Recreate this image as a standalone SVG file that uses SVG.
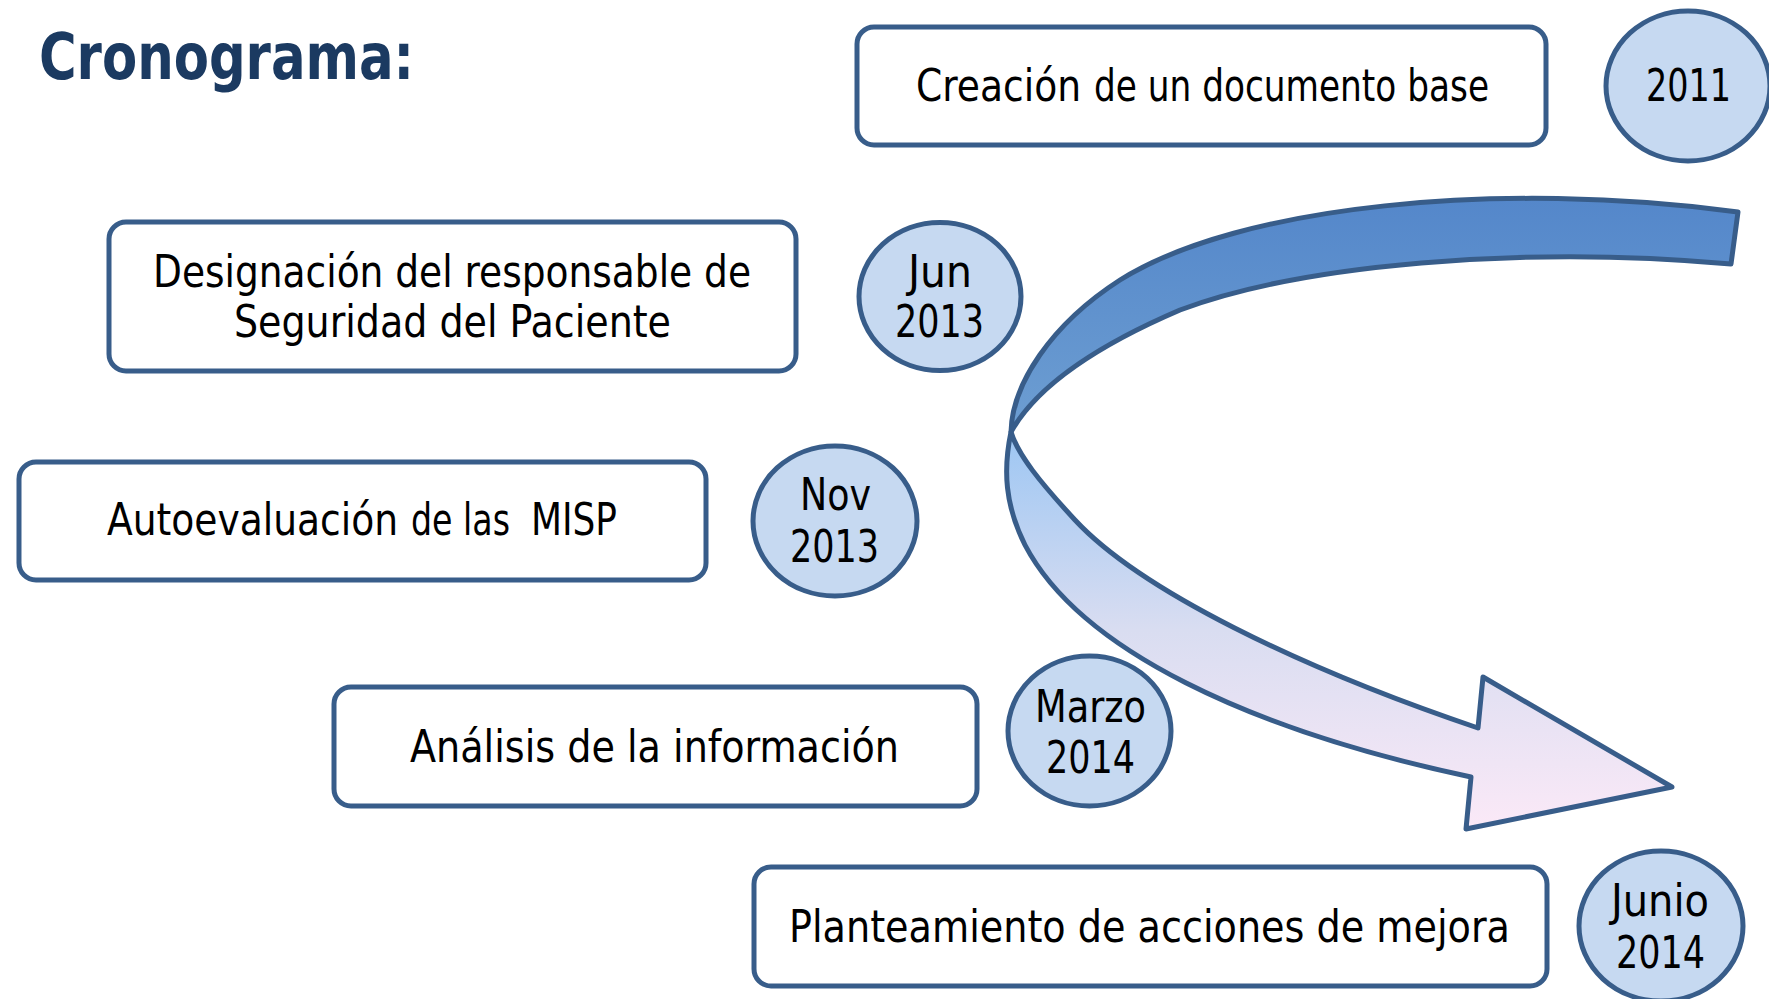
<svg xmlns="http://www.w3.org/2000/svg" width="1769" height="999" viewBox="0 0 1769 999">
  <defs>
    <linearGradient id="backBand" gradientUnits="userSpaceOnUse" x1="0" y1="190" x2="0" y2="440">
      <stop offset="0" stop-color="#5386CA"/>
      <stop offset="1" stop-color="#6E9FD2"/>
    </linearGradient>
    <linearGradient id="frontBand" gradientUnits="userSpaceOnUse" x1="0" y1="430" x2="0" y2="830">
      <stop offset="0" stop-color="#9CC6F3"/>
      <stop offset="0.5" stop-color="#D9DDF1"/>
      <stop offset="1" stop-color="#FBE9F7"/>
    </linearGradient>
    <style>
      .box { fill: #FFFFFF; stroke: #385D8A; stroke-width: 5; }
      .date { fill: #C6D9F1; stroke: #385D8A; stroke-width: 5; }
      .band { stroke: #385D8A; stroke-width: 5; stroke-linejoin: round; }
      .t { font-family: "DejaVu Sans Condensed", "DejaVu Sans", sans-serif; fill: #000000; font-size: 44px; }
      .title { font-family: "DejaVu Sans Condensed", "DejaVu Sans", sans-serif; font-weight: bold; font-size: 64px; fill: #1B3A61; }
    </style>
  </defs>
  <rect width="1769" height="999" fill="#FFFFFF"/>

  <text class="title" x="39" y="79" textLength="375" lengthAdjust="spacingAndGlyphs">Cronograma:</text>

  <g id="connectors">
    <path class="band" fill="url(#backBand)" d="M1738,212 C1500,180 1240,205 1120,280 C1050,325 1012,385 1011,432 C1040,380 1110,340 1180,310 C1300,265 1520,245 1731,264 Z"/>
    <path class="band" fill="url(#frontBand)" d="M1011,432 C1003,470 1005,505 1025,545 C1080,650 1250,730 1471,777 L1466,829 L1672,787 L1483,677 L1478,728 C1300,668 1140,590 1075,520 C1040,482 1018,455 1011,432 Z"/>
  </g>

  <g id="node-creacion">
    <rect class="box" x="857" y="27" width="689" height="118" rx="17"/>
    <text class="t" x="916" y="101" font-size="47" textLength="165" lengthAdjust="spacingAndGlyphs">Creación</text>
    <text class="t" x="1094" y="101" font-size="39" textLength="395" lengthAdjust="spacingAndGlyphs">de un documento base</text>
  </g>
  <g id="date-2011">
    <ellipse class="date" cx="1688" cy="86" rx="82" ry="75"/>
    <text class="t" x="1646" y="101" textLength="85" lengthAdjust="spacingAndGlyphs">2011</text>
  </g>

  <g id="node-designacion">
    <rect class="box" x="109" y="222" width="687" height="149" rx="17"/>
    <text class="t" x="153" y="287" textLength="598" lengthAdjust="spacingAndGlyphs">Designación del responsable de</text>
    <text class="t" x="234" y="337" textLength="437" lengthAdjust="spacingAndGlyphs">Seguridad del Paciente</text>
  </g>
  <g id="date-jun2013">
    <ellipse class="date" cx="940" cy="296.5" rx="81" ry="74"/>
    <text class="t" x="908" y="287" textLength="64" lengthAdjust="spacingAndGlyphs">Jun</text>
    <text class="t" x="895" y="337" textLength="89" lengthAdjust="spacingAndGlyphs">2013</text>
  </g>

  <g id="node-autoevaluacion">
    <rect class="box" x="19" y="462" width="687" height="118" rx="17"/>
    <text class="t" x="107" y="535" font-size="45" textLength="291" lengthAdjust="spacingAndGlyphs">Autoevaluación</text>
    <text class="t" x="411" y="535" font-size="37" textLength="99" lengthAdjust="spacingAndGlyphs">de las</text>
    <text class="t" x="531" y="535" font-size="38" textLength="86" lengthAdjust="spacingAndGlyphs">MISP</text>
  </g>
  <g id="date-nov2013">
    <ellipse class="date" cx="835" cy="521" rx="82" ry="75"/>
    <text class="t" x="800" y="510" textLength="71" lengthAdjust="spacingAndGlyphs">Nov</text>
    <text class="t" x="790" y="562" textLength="89" lengthAdjust="spacingAndGlyphs">2013</text>
  </g>

  <g id="node-analisis">
    <rect class="box" x="334" y="687" width="643" height="119" rx="17"/>
    <text class="t" x="410" y="762" textLength="489" lengthAdjust="spacingAndGlyphs">Análisis de la información</text>
  </g>
  <g id="date-marzo2014">
    <ellipse class="date" cx="1089.5" cy="731" rx="81.5" ry="75"/>
    <text class="t" x="1035" y="722" textLength="111" lengthAdjust="spacingAndGlyphs">Marzo</text>
    <text class="t" x="1046" y="773" textLength="89" lengthAdjust="spacingAndGlyphs">2014</text>
  </g>

  <g id="node-planteamiento">
    <rect class="box" x="754" y="867" width="793" height="119" rx="17"/>
    <text class="t" x="789" y="942" textLength="721" lengthAdjust="spacingAndGlyphs">Planteamiento de acciones de mejora</text>
  </g>
  <g id="date-junio2014">
    <ellipse class="date" cx="1661" cy="926" rx="82" ry="75"/>
    <text class="t" x="1611" y="916" textLength="98" lengthAdjust="spacingAndGlyphs">Junio</text>
    <text class="t" x="1616" y="968" textLength="89" lengthAdjust="spacingAndGlyphs">2014</text>
  </g>
</svg>
